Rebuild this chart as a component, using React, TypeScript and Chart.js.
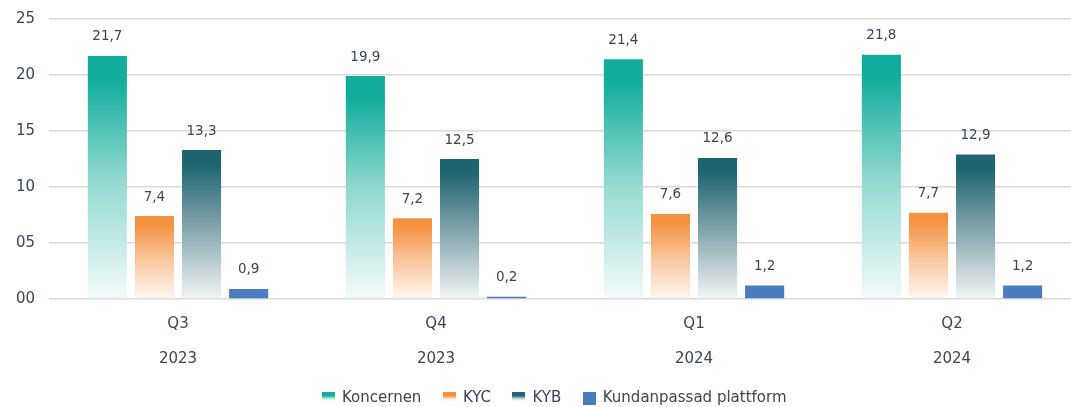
import React, { useEffect, useRef } from "react";
import { Chart, registerables } from "chart.js";

Chart.register(...registerables);

const quarters = ["Q3", "Q4", "Q1", "Q2"];
const years = ["2023", "2023", "2024", "2024"];
const seriesNames = ["Koncernen", "KYC", "KYB", "Kundanpassad plattform"];
const koncernen = [21.7, 19.9, 21.4, 21.8];
const kyc = [7.4, 7.2, 7.6, 7.7];
const kyb = [13.3, 12.5, 12.6, 12.9];
const kundanpassad = [0.9, 0.2, 1.2, 1.2];
const yTicks = [0, 5, 10, 15, 20, 25];

const topColors = ["#12ad9c", "#f39241", "#1e6571", "#4a7cbf"];
const midColors = ["#8fd8cf", "#f9c398", "#7fa2aa", "#4a7cbf"];
const bottomColors = ["#f3fbfb", "#fff8f2", "#f1f5f7", "#4a7cbf"];
const gradientSeries = [true, true, true, false];

const TEXT = "#3a4556";
const FONT = "'DejaVu Sans', sans-serif";

function makeLegendIcon(i: number): HTMLCanvasElement {
  const c = document.createElement("canvas");
  c.width = 13;
  c.height = 13;
  const g = c.getContext("2d")!;
  if (gradientSeries[i]) {
    const gr = g.createLinearGradient(0, 0, 0, 13);
    gr.addColorStop(0, topColors[i]);
    gr.addColorStop(0.3, topColors[i]);
    gr.addColorStop(0.75, "rgba(255,255,255,0)");
    gr.addColorStop(1, "rgba(255,255,255,0)");
    g.fillStyle = gr;
  } else {
    g.fillStyle = topColors[i];
  }
  g.fillRect(0, 0, 13, 13);
  return c;
}

function fmt(v: number): string {
  return v.toFixed(1).replace(".", ",");
}

export default function App() {
  const ref = useRef<HTMLCanvasElement | null>(null);

  useEffect(() => {
    if (!ref.current) return;
    const values = [koncernen, kyc, kyb, kundanpassad];
    const icons = seriesNames.map((_, i) => makeLegendIcon(i));

    const barColor = (si: number) => (ctx: any) => {
      if (!gradientSeries[si]) return topColors[si];
      const chart = ctx.chart;
      const ys = chart.scales && chart.scales.y;
      if (!ys || ctx.raw == null) return topColors[si];
      const top = ys.getPixelForValue(ctx.raw);
      const bottom = ys.getPixelForValue(0);
      if (!isFinite(top) || !isFinite(bottom) || bottom - top < 1) return topColors[si];
      const gr = chart.ctx.createLinearGradient(0, top, 0, bottom);
      gr.addColorStop(0, topColors[si]);
      gr.addColorStop(0.1, topColors[si]);
      gr.addColorStop(0.5, midColors[si]);
      gr.addColorStop(1, bottomColors[si]);
      return gr;
    };

    const labelPlugin = {
      id: "valueLabels",
      afterLayout(chart: any) {
        if (chart.legend) {
          chart.legend.left += 6;
          chart.legend.right += 6;
        }
      },
      afterDatasetsDraw(chart: any) {
        const c = chart.ctx;
        c.save();
        c.font = `13.5px ${FONT}`;
        c.fillStyle = TEXT;
        c.textAlign = "center";
        c.textBaseline = "middle";
        chart.data.datasets.forEach((ds: any, di: number) => {
          const meta = chart.getDatasetMeta(di);
          meta.data.forEach((el: any, i: number) => {
            c.fillText(fmt(ds.data[i]), el.x, el.y - 19);
          });
        });
        c.restore();
      },
    };

    const chart = new Chart(ref.current, {
      type: "bar",
      data: {
        labels: quarters.map((q, i) => [q, years[i]]),
        datasets: seriesNames.map((name, si) => ({
          label: name,
          data: values[si],
          backgroundColor: barColor(si),
          borderWidth: 0,
          categoryPercentage: 0.73,
          barPercentage: 0.83,
          pointStyle: icons[si],
        })),
      },
      options: {
        responsive: false,
        animation: false,
        devicePixelRatio: 1,
        layout: { padding: { top: 19, left: 16, right: 9, bottom: 0 } },
        plugins: {
          tooltip: { enabled: false },
          legend: {
            position: "bottom",
            labels: {
              usePointStyle: true,
              pointStyleWidth: 12,
              padding: 22,
              color: TEXT,
              font: { family: FONT, size: 15 },
            },
          },
        },
        scales: {
          x: {
            grid: { display: false, drawTicks: false },
            border: { display: false },
            ticks: {
              color: TEXT,
              padding: 7.5,
              font: { family: FONT, size: 15, lineHeight: 35 / 15 },
              maxRotation: 0,
            },
            afterFit(scale: any) {
              scale.height = 70;
            },
          },
          y: {
            min: 0,
            max: 25,
            afterBuildTicks(scale: any) {
              scale.ticks = yTicks.map((v) => ({ value: v }));
            },
            grid: { color: "#d9d9d9", lineWidth: 1.5, drawTicks: false },
            border: { display: false },
            ticks: {
              color: TEXT,
              padding: 14,
              font: { family: FONT, size: 15 },
              callback: (v: any) => String(v).padStart(2, "0"),
            },
            afterFit(scale: any) {
              scale.width = 33;
              scale.paddingTop = 9;
              scale.paddingBottom = 9;
            },
          },
        },
      },
      plugins: [labelPlugin],
    });
    return () => chart.destroy();
  }, []);

  return (
    <div
      style={{
        position: "absolute",
        left: 0,
        top: 0,
        width: 1071,
        height: 407,
        overflow: "hidden",
        background: "#ffffff",
      }}
    >
      <canvas ref={ref} width={1090} height={416} style={{ width: 1090, height: 416, display: "block" }} />
    </div>
  );
}
